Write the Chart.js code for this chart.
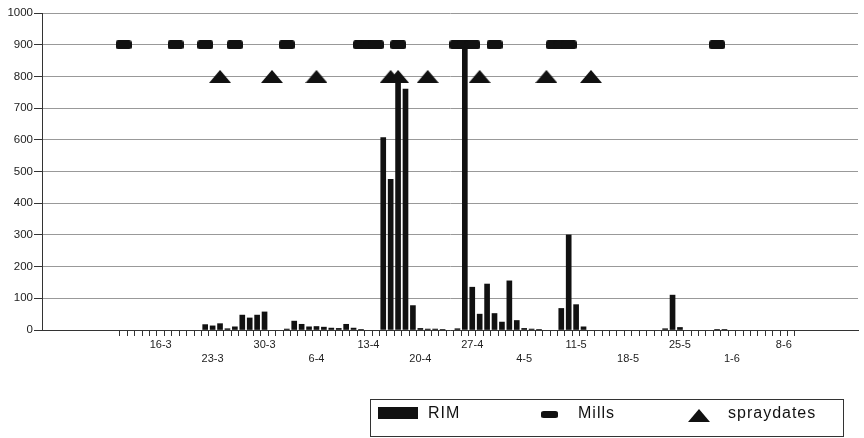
<!DOCTYPE html>
<html>
<head>
<meta charset="utf-8">
<script src="https://cdn.jsdelivr.net/npm/chart.js@4"></script>
<style>
  html, body { margin: 0; padding: 0; background: #fff; }
  canvas { display: block; }
</style>
</head>
<body>
<canvas id="rimChart" width="864" height="438"></canvas>
<script>
// RIM values per day (day-month)
var rimDates = ['22-3','23-3','24-3','25-3','26-3','27-3','28-3','29-3','30-3',
                '2-4','3-4','4-4','5-4','6-4','7-4','8-4','9-4','10-4','11-4','12-4',
                '15-4','16-4','17-4','18-4','19-4','20-4','21-4','22-4','23-4','25-4',
                '26-4','27-4','28-4','29-4','30-4','1-5','2-5','3-5','4-5','5-5','6-5',
                '9-5','10-5','11-5','12-5',
                '23-5','24-5','25-5','30-5','31-5'];
var rimValues = [17, 13, 20, 4, 10, 47, 38, 47, 57,
                 3, 28, 18, 10, 11, 9, 6, 5, 18, 6, 2,
                 607, 475, 780, 760, 77, 5, 3, 3, 2, 4,
                 900, 135, 50, 145, 52, 25, 155, 30, 5, 3, 2,
                 68, 300, 80, 10,
                 4, 110, 8, 2, 2];

// mill days, drawn at 900
var millDates = ['11-3','18-3','22-3','26-3','2-4','12-4','13-4','14-4','17-4',
                 '25-4','26-4','27-4','30-4','8-5','9-5','10-5','30-5'];
var millLevel = 900;

// spray dates, drawn at 800
var sprayDates = ['24-3','31-3','6-4','16-4','17-4','21-4','28-4','7-5','13-5'];
var sprayLevel = 800;

var tickLabels = ['16-3','23-3','30-3','6-4','13-4','20-4','27-4','4-5','11-5','18-5','25-5','1-6','8-6'];
var firstTickDate = '10-3';
var lastTickDate = '9-6';

// days since 1 March
function dayOf(s) {
    var p = s.split('-');
    return (Date.UTC(2000, +p[1] - 1, +p[0]) - Date.UTC(2000, 2, 1)) / 864e5;
}

function makeMarker(w, h, draw) {
    var c = document.createElement('canvas');
    c.width = w; c.height = h;
    var g = c.getContext('2d');
    g.fillStyle = '#111';
    g.beginPath();
    draw(g, w, h);
    g.fill();
    return c;
}
var millMark = makeMarker(16, 9, function (g, w, h) { g.roundRect(0, 0, w, h, 2.5); });
var sprayMark = makeMarker(22, 13, function (g, w, h) {
    g.moveTo(w / 2, 0); g.lineTo(w, h); g.lineTo(0, h); g.closePath();
});

var labelDays = tickLabels.map(dayOf);
var tickValues = [];
for (var v = dayOf(firstTickDate) + 0.5; v <= dayOf(lastTickDate) + 0.5; v += 0.5) tickValues.push(v);

// hand-drawn legend box under the plot
var legendPlugin = {
    id: 'boxLegend',
    afterDraw: function (chart) {
        var ctx = chart.ctx;
        var ds = chart.data.datasets;
        ctx.save();
        ctx.strokeStyle = '#333';
        ctx.lineWidth = 1;
        ctx.strokeRect(370.5, 399.5, 473, 37);
        ctx.fillStyle = '#111';
        ctx.fillRect(378, 407, 40, 12);
        ctx.drawImage(millMark, 541, 411, 17, 7);
        ctx.drawImage(sprayMark, 688, 409);
        ctx.font = '16px "Liberation Sans", Arial, sans-serif';
        ctx.letterSpacing = '1px';
        ctx.textBaseline = 'middle';
        ctx.fillText(ds[0].label, 428, 414);
        ctx.fillText(ds[1].label, 578, 414);
        ctx.fillText(ds[2].label, 728, 414);
        ctx.restore();
    }
};

Chart.defaults.font.family = '"Liberation Sans", Arial, sans-serif';
Chart.defaults.color = '#222';

new Chart(document.getElementById('rimChart'), {
    type: 'bar',
    data: {
        datasets: [{
            label: 'RIM',
            data: rimDates.map(function (d, i) { return { x: dayOf(d), y: rimValues[i] }; }),
            backgroundColor: '#111',
            barThickness: 5,
            order: 3
        }, {
            type: 'line',
            label: 'Mills',
            data: millDates.map(function (d) { return { x: dayOf(d), y: millLevel }; }),
            showLine: false,
            pointStyle: millMark,
            pointRadius: 5,
            order: 1
        }, {
            type: 'line',
            label: 'spraydates',
            data: sprayDates.map(function (d) { return { x: dayOf(d), y: sprayLevel }; }),
            showLine: false,
            pointStyle: sprayMark,
            pointRadius: 5,
            order: 2
        }]
    },
    options: {
        responsive: false,
        animation: false,
        events: [],
        layout: { padding: { top: 13, right: 3, left: 0, bottom: 0 } },
        plugins: { legend: { display: false }, tooltip: { enabled: false } },
        scales: {
            x: {
                type: 'linear',
                min: dayOf('16-3') - 16,
                max: dayOf('16-3') + 94,
                bounds: 'data',
                offset: false,
                afterBuildTicks: function (scale) {
                    scale.ticks = tickValues.map(function (v) { return { value: v }; });
                },
                afterFit: function (scale) { scale.height = 108; },
                border: { color: '#333', width: 1 },
                grid: {
                    offset: false,
                    drawOnChartArea: false,
                    tickLength: 6,
                    tickColor: function (c) {
                        return c.tick && c.tick.value % 1 !== 0 ? '#333' : 'rgba(0,0,0,0)';
                    }
                },
                ticks: {
                    autoSkip: false,
                    maxRotation: 0,
                    minRotation: 0,
                    padding: 1,
                    font: { size: 11, lineHeight: 1.36 },
                    callback: function (value) {
                        var i = labelDays.indexOf(value);
                        if (i < 0) return '';
                        return i % 2 === 0 ? tickLabels[i] : ['', tickLabels[i]];
                    }
                }
            },
            y: {
                min: 0,
                max: 1000,
                afterFit: function (scale) { scale.width = 42; },
                border: { color: '#333', width: 1 },
                grid: { color: '#999', tickColor: '#333', tickLength: 8 },
                ticks: {
                    stepSize: 100,
                    padding: 1,
                    font: { size: 11.5 },
                    callback: function (value) { return String(value); }
                }
            }
        }
    },
    plugins: [legendPlugin]
});
</script>
</body>
</html>
